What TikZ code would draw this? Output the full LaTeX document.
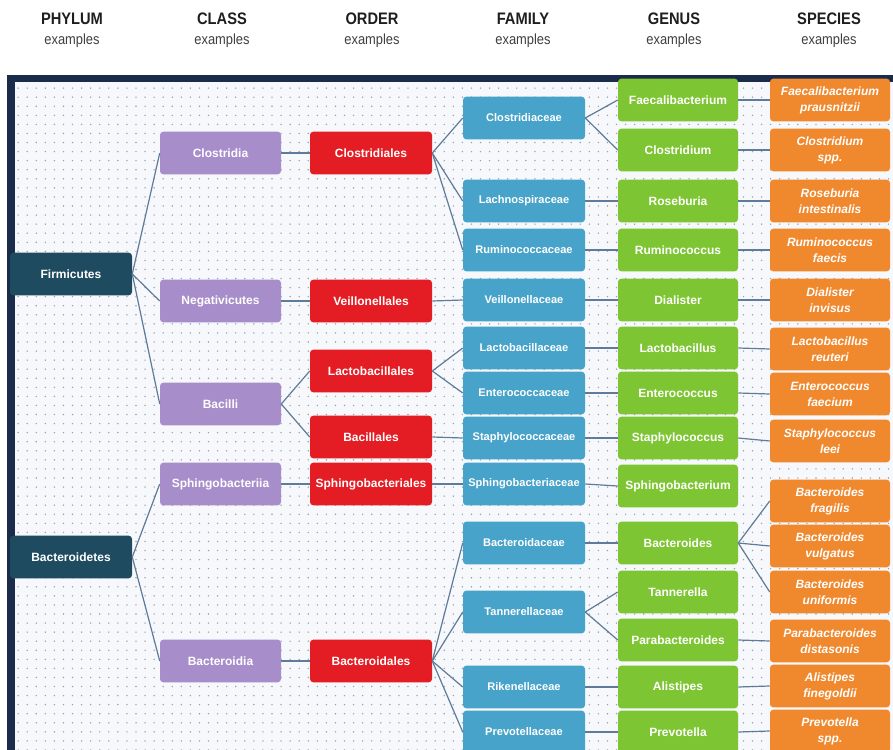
\documentclass[tikz,border=0pt]{standalone}
\usepackage{fontspec}
\setmainfont{Liberation Sans}
\newfontfamily\hdrfont[FakeStretch=0.88]{Liberation Sans}
\usetikzlibrary{patterns.meta}
\definecolor{frameC}{HTML}{1A2B4C}
\definecolor{bgC}{HTML}{F6F8FB}
\definecolor{dotC}{HTML}{9AA2AD}
\definecolor{lineC}{HTML}{5F7B99}
\definecolor{phyC}{HTML}{1F4B60}
\definecolor{clsC}{HTML}{A88DCB}
\definecolor{ordC}{HTML}{E41C23}
\definecolor{famC}{HTML}{47A3C9}
\definecolor{genC}{HTML}{7DC532}
\definecolor{spcC}{HTML}{F0882E}
\definecolor{hdrC}{HTML}{1E1E1E}
\begin{document}
\begin{tikzpicture}[x=0.75pt,y=-0.75pt,
  box/.style={rounded corners=2.5pt, text=white, font=\bfseries\fontsize{9}{11}\selectfont, minimum height=32pt, inner sep=1pt, align=center},
  phy/.style={box, fill=phyC, minimum width=91.5pt},
  cls/.style={box, fill=clsC, minimum width=90.75pt},
  ord/.style={box, fill=ordC, minimum width=91.5pt},
  fam/.style={box, fill=famC, minimum width=91.5pt, font=\bfseries\fontsize{8.3}{10}\selectfont},
  gen/.style={box, fill=genC, minimum width=90pt},
  spc/.style={box, fill=spcC, minimum width=90pt, font=\bfseries\itshape\fontsize{9}{12}\selectfont},
  hdr/.style={text=hdrC, font=\hdrfont\bfseries\fontsize{12.5}{14}\selectfont, inner sep=0pt},
  sub/.style={text=hdrC!85, font=\hdrfont\fontsize{11}{13}\selectfont, inner sep=0pt},
  conn/.style={draw=lineC, line width=0.9pt}
]
\useasboundingbox (0,0) rectangle (893,750);
\clip (0,0) rectangle (893,750);
\fill[white] (0,0) rectangle (893,750);
% frame and dotted background
\fill[frameC] (7,75) rectangle (893,750);
\fill[bgC] (15,82) rectangle (893,750);
\fill[pattern={Dots[radius=0.6pt,distance=6.8pt]}, pattern color=dotC] (15,82) rectangle (893,750);

% headers
\node[hdr] (hP) at (72,19) {PHYLUM};  \node[sub] (sP) at (72,41) {examples};
\node[hdr] (hC) at (222,19) {CLASS};   \node[sub] (sC) at (222,41) {examples};
\node[hdr] (hO) at (372,19) {ORDER};   \node[sub] (sO) at (372,41) {examples};
\node[hdr] (hF) at (523,19) {FAMILY};  \node[sub] (sF) at (523,41) {examples};
\node[hdr] (hG) at (674,19) {GENUS};   \node[sub] (sG) at (674,41) {examples};
\node[hdr] (hS) at (829,19) {SPECIES}; \node[sub] (sS) at (829,41) {examples};

% phylum
\node[phy] (firm) at (71,274) {Firmicutes};
\node[phy] (bact) at (71,557) {Bacteroidetes};
% class
\node[cls] (clos) at (220.5,153) {Clostridia};
\node[cls] (nega) at (220.5,301) {Negativicutes};
\node[cls] (baci) at (220.5,404) {Bacilli};
\node[cls] (sphc) at (220.5,484) {Sphingobacteriia};
\node[cls] (bcdc) at (220.5,661) {Bacteroidia};
% order
\node[ord] (closo) at (371,153) {Clostridiales};
\node[ord] (veilo) at (371,301) {Veillonellales};
\node[ord] (lacto) at (371,371) {Lactobacillales};
\node[ord] (bacio) at (371,437) {Bacillales};
\node[ord] (spho) at (371,484) {Sphingobacteriales};
\node[ord] (bcdo) at (371,661) {Bacteroidales};
% family
\node[fam] (closf) at (524,118) {Clostridiaceae};
\node[fam] (lachf) at (524,201) {Lachnospiraceae};
\node[fam] (rumif) at (524,250) {Ruminococcaceae};
\node[fam] (veilf) at (524,300) {Veillonellaceae};
\node[fam] (lactf) at (524,348) {Lactobacillaceae};
\node[fam] (entef) at (524,393) {Enterococcaceae};
\node[fam] (staf) at (524,438) {Staphylococcaceae};
\node[fam] (sphf) at (524,484) {Sphingobacteriaceae};
\node[fam] (bcdf) at (524,543) {Bacteroidaceae};
\node[fam] (tanf) at (524,612) {Tannerellaceae};
\node[fam] (rikf) at (524,687) {Rikenellaceae};
\node[fam] (prvf) at (524,732) {Prevotellaceae};
% genus
\node[gen] (faeg) at (678,100) {Faecalibacterium};
\node[gen] (closg) at (678,150) {Clostridium};
\node[gen] (roseg) at (678,201) {Roseburia};
\node[gen] (rumig) at (678,250) {Ruminococcus};
\node[gen] (dialg) at (678,300) {Dialister};
\node[gen] (lactg) at (678,348) {Lactobacillus};
\node[gen] (enteg) at (678,393) {Enterococcus};
\node[gen] (stag) at (678,438) {Staphylococcus};
\node[gen] (sphg) at (678,486) {Sphingobacterium};
\node[gen] (bcdg) at (678,543) {Bacteroides};
\node[gen] (tang) at (678,592) {Tannerella};
\node[gen] (parg) at (678,640) {Parabacteroides};
\node[gen] (alig) at (678,687) {Alistipes};
\node[gen] (prvg) at (678,732) {Prevotella};
% species
\node[spc] (faes) at (830,100) {Faecalibacterium\\prausnitzii};
\node[spc] (closs) at (830,150) {Clostridium\\spp.};
\node[spc] (roses) at (830,201) {Roseburia\\intestinalis};
\node[spc] (rumis) at (830,250) {Ruminococcus\\faecis};
\node[spc] (dials) at (830,300) {Dialister\\invisus};
\node[spc] (lacts) at (830,349) {Lactobacillus\\reuteri};
\node[spc] (entes) at (830,394) {Enterococcus\\faecium};
\node[spc] (stas) at (830,441) {Staphylococcus\\leei};
\node[spc] (bfra) at (830,501) {Bacteroides\\fragilis};
\node[spc] (bvul) at (830,546) {Bacteroides\\vulgatus};
\node[spc] (buni) at (830,592) {Bacteroides\\uniformis};
\node[spc] (pars) at (830,641) {Parabacteroides\\distasonis};
\node[spc] (alis) at (830,686) {Alistipes\\finegoldii};
\node[spc] (prvs) at (830,731) {Prevotella\\spp.};

% connectors
\foreach \a/\b in {firm/clos, firm/nega, firm/baci, bact/sphc, bact/bcdc,
  clos/closo, nega/veilo, baci/lacto, baci/bacio, sphc/spho, bcdc/bcdo,
  closo/closf, closo/lachf, closo/rumif, veilo/veilf, lacto/lactf, lacto/entef,
  bacio/staf, spho/sphf, bcdo/bcdf, bcdo/tanf, bcdo/rikf, bcdo/prvf,
  closf/faeg, closf/closg, lachf/roseg, rumif/rumig, veilf/dialg, lactf/lactg,
  entef/enteg, staf/stag, sphf/sphg, bcdf/bcdg, tanf/tang, tanf/parg, rikf/alig, prvf/prvg,
  faeg/faes, closg/closs, roseg/roses, rumig/rumis, dialg/dials, lactg/lacts,
  enteg/entes, stag/stas, bcdg/bfra, bcdg/bvul, bcdg/buni, parg/pars, alig/alis, prvg/prvs}
  \draw[conn] (\a.east) -- (\b.west);
\end{tikzpicture}
\end{document}
